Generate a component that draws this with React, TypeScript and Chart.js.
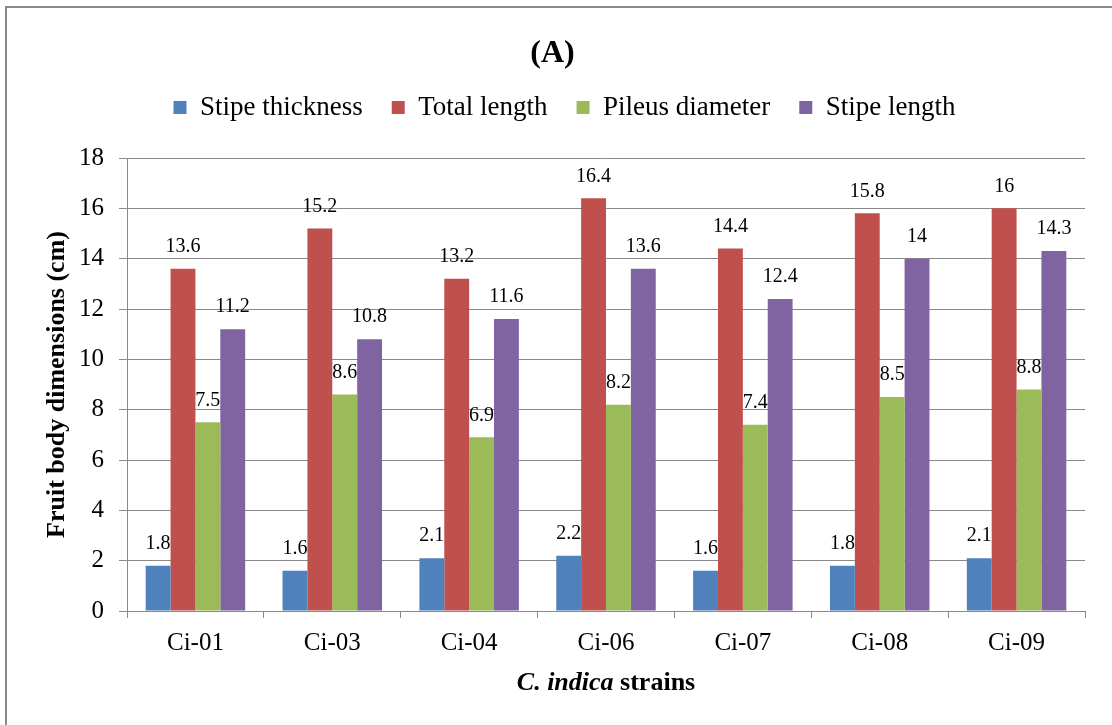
import React, { useEffect, useRef } from "react";
import { Chart, registerables } from "chart.js";

Chart.register(...registerables);

const strains = ["Ci-01", "Ci-03", "Ci-04", "Ci-06", "Ci-07", "Ci-08", "Ci-09"];
const stipeThickness = [1.8, 1.6, 2.1, 2.2, 1.6, 1.8, 2.1];
const totalLength = [13.6, 15.2, 13.2, 16.4, 14.4, 15.8, 16];
const pileusDiameter = [7.5, 8.6, 6.9, 8.2, 7.4, 8.5, 8.8];
const stipeLength = [11.2, 10.8, 11.6, 13.6, 12.4, 14, 14.3];

const seriesNames = ["Stipe thickness", "Total length", "Pileus diameter", "Stipe length"];
const seriesColors = ["#4F81BD", "#C0504D", "#9BBB59", "#8064A2"];

const FONT = "'Liberation Serif', 'Times New Roman', serif";
const GRID = "#898989";

const framePlugin = {
  id: "frame",
  beforeDraw(chart: any) {
    const ctx = chart.ctx;
    ctx.save();
    ctx.fillStyle = "#ffffff";
    ctx.fillRect(0, 0, chart.width, chart.height);
    ctx.strokeStyle = GRID;
    ctx.lineWidth = 2;
    ctx.strokeRect(6, 7, chart.width + 100, chart.height + 100);
    ctx.restore();
  },
};

const legendSpacer = {
  id: "legendSpacer",
  beforeInit(chart: any) {
    const orig = chart.legend.fit;
    chart.legend.fit = function () {
      orig.bind(chart.legend)();
      this.height += 27;
      if (this.lineWidths && this.lineWidths.length) this.lineWidths[0] -= 24;
    };
  },
};

const valueLabels = {
  id: "valueLabels",
  afterDatasetsDraw(chart: any) {
    const ctx = chart.ctx;
    ctx.save();
    ctx.font = `20px ${FONT}`;
    ctx.fillStyle = "#000";
    ctx.textAlign = "center";
    ctx.textBaseline = "middle";
    chart.data.datasets.forEach((ds: any, di: number) => {
      const meta = chart.getDatasetMeta(di);
      meta.data.forEach((el: any, i: number) => {
        ctx.fillText(String(ds.data[i]), el.x, el.y - 22);
      });
    });
    ctx.restore();
  },
};

const xTitle = {
  id: "xTitle",
  afterDraw(chart: any) {
    const ctx = chart.ctx;
    const area = chart.chartArea;
    const cx = (area.left + area.right) / 2;
    const y = chart.height - 42;
    const p1 = "C. indica";
    const p2 = " strains";
    ctx.save();
    ctx.fillStyle = "#000";
    ctx.textBaseline = "middle";
    ctx.textAlign = "left";
    ctx.font = `italic bold 26px ${FONT}`;
    const w1 = ctx.measureText(p1).width;
    ctx.font = `bold 26px ${FONT}`;
    const w2 = ctx.measureText(p2).width;
    const x0 = cx - (w1 + w2) / 2;
    ctx.font = `italic bold 26px ${FONT}`;
    ctx.fillText(p1, x0, y);
    ctx.font = `bold 26px ${FONT}`;
    ctx.fillText(p2, x0 + w1, y);
    ctx.restore();
  },
};

export default function App() {
  const ref = useRef<HTMLCanvasElement>(null);

  useEffect(() => {
    if (!ref.current) return;
    const values = [stipeThickness, totalLength, pileusDiameter, stipeLength];
    const chart = new Chart(ref.current, {
      type: "bar",
      data: {
        labels: strains,
        datasets: values.map((v, i) => ({
          label: seriesNames[i],
          data: v,
          backgroundColor: seriesColors[i],
          borderWidth: 0,
          categoryPercentage: 0.727,
          barPercentage: 1,
        })),
      },
      options: {
        responsive: false,
        animation: false,
        layout: { padding: { left: 20, right: 27, top: 0, bottom: 0 } },
        plugins: {
          title: {
            display: true,
            text: "(A)",
            color: "#000",
            font: { family: FONT, size: 32, weight: "bold", lineHeight: 1 },
            padding: { top: 38, bottom: -5 },
          },
          legend: {
            display: true,
            position: "top",
            labels: {
              color: "#000",
              font: { family: FONT, size: 27 },
              boxWidth: 13,
              boxHeight: 13,
              padding: 29,
            },
          },
          tooltip: { enabled: false },
        },
        scales: {
          x: {
            grid: {
              offset: true,
              drawOnChartArea: false,
              drawTicks: true,
              tickLength: 7,
              color: GRID,
            },
            border: { display: true, color: GRID },
            ticks: {
              color: "#000",
              font: { family: FONT, size: 25 },
              padding: 10,
            },
            afterFit(scale: any) {
              scale.height = 114;
            },
          },
          y: {
            min: 0,
            max: 18,
            ticks: {
              stepSize: 2,
              color: "#000",
              font: { family: FONT, size: 25 },
              padding: 15,
            },
            grid: { color: GRID, tickLength: 8, drawTicks: true },
            border: { display: true, color: GRID },
            title: {
              display: true,
              text: "Fruit body dimensions (cm)",
              color: "#000",
              font: { family: FONT, size: 26, weight: "bold" },
              padding: { top: 22, bottom: 5 },
            },
            afterFit(scale: any) {
              scale.width = 107;
            },
          },
        },
      },
      plugins: [framePlugin, legendSpacer, valueLabels, xTitle],
    });
    return () => chart.destroy();
  }, []);

  return (
    <div style={{ position: "absolute", left: 0, top: 0, width: 1112, height: 725, background: "#fff" }}>
      <canvas ref={ref} width={1112} height={725} style={{ display: "block" }} />
    </div>
  );
}
